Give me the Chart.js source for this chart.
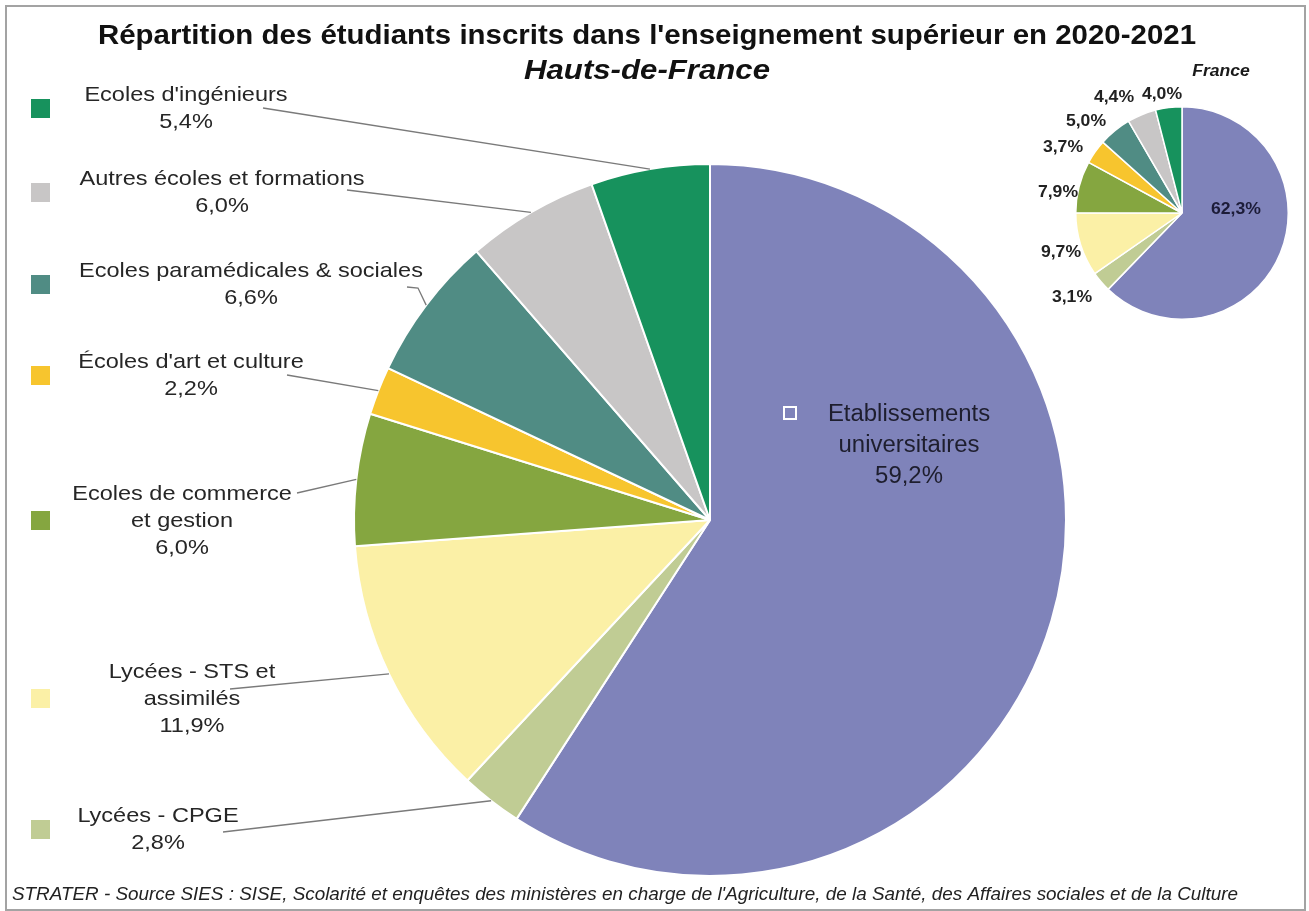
<!DOCTYPE html>
<html>
<head>
<meta charset="utf-8">
<script src="https://cdn.jsdelivr.net/npm/chart.js@4"></script>
<style>
  body { margin: 0; background: #fff; }
  #wrap { position: relative; width: 1309px; height: 911px; }
  canvas { position: absolute; left: 0; top: 0; }
</style>
</head>
<body>
<div id="wrap">
  <canvas id="mainChart" width="1309" height="911"></canvas>
  <canvas id="franceChart" width="1309" height="911"></canvas>
</div>
<script>
// Données (ordre des parts, dans le sens horaire depuis midi)
const categories = [
  'Etablissements\nuniversitaires',
  'Lycées - CPGE',
  'Lycées - STS et\nassimilés',
  'Ecoles de commerce\net gestion',
  "Écoles d'art et culture",
  'Ecoles paramédicales & sociales',
  'Autres écoles et formations',
  "Ecoles d'ingénieurs"
];
const hautsDeFrance = [59.2, 2.8, 11.9, 6.0, 2.2, 6.6, 6.0, 5.4];
const france = [62.3, 3.1, 9.7, 7.9, 3.7, 5.0, 4.4, 4.0];

const colors = ['#7f83ba', '#c0cc94', '#fbf0a6', '#85a640', '#f7c52e', '#508c84', '#c8c6c6', '#17925d'];

// Position des étiquettes (centre du bloc de texte) et départ des traits de rappel
const labelPos = [[909, 446], [158, 830], [192, 699], [182, 521], [191, 376], [251, 285], [222, 193], [186, 109]];
const leaderFrom = [null, [[223, 832]], [[230, 689]], [[297, 493]], [[287, 375]], [[407, 287], [418, 288]], [[347, 190]], [[263, 108]]];
const smallLabelPos = [[1236, 210], [1072, 298], [1061, 253], [1058, 193], [1063, 148], [1086, 122], [1114, 98], [1162, 95]];

const fmt = v => v.toFixed(1).replace('.', ',') + '%';

function txt(ctx, s, x, y, font, color, sx, align) {
  ctx.save();
  ctx.font = font;
  ctx.fillStyle = color;
  ctx.textBaseline = 'middle';
  ctx.textAlign = align || 'center';
  ctx.translate(x, y);
  ctx.scale(sx || 1, 1);
  ctx.fillText(s, 0, 0);
  ctx.restore();
}

function fit(ctx, s, x, y, font, color, w, align) {
  ctx.save();
  ctx.font = font;
  const m = ctx.measureText(s).width;
  ctx.restore();
  txt(ctx, s, x, y, font, color, w / m, align);
}

const mainDecor = {
  id: 'mainDecor',
  beforeDraw(chart) {
    const ctx = chart.ctx;
    ctx.save();
    ctx.fillStyle = '#fff';
    ctx.fillRect(0, 0, chart.width, chart.height);
    ctx.strokeStyle = '#a3a3a3';
    ctx.lineWidth = 2;
    ctx.strokeRect(6, 6, 1299, 904);
    ctx.restore();
  },
  afterDraw(chart) {
    const ctx = chart.ctx;
    const meta = chart.getDatasetMeta(0);

    // titres et source
    fit(ctx, "Répartition des étudiants inscrits dans l'enseignement supérieur en 2020-2021", 647, 37,
      'bold 27px "Liberation Sans Narrow", "Liberation Sans", Arial', '#111', 1098);
    fit(ctx, 'Hauts-de-France', 647, 72, 'italic bold 27px "Liberation Sans Narrow", "Liberation Sans", Arial', '#111', 246);
    fit(ctx, "STRATER - Source SIES : SISE, Scolarité et enquêtes des ministères en charge de l'Agriculture, de la Santé, des Affaires sociales et de la Culture",
      12, 895, 'italic 18px "Liberation Sans Narrow", "Liberation Sans", Arial', '#222', 1226, 'left');

    // traits de rappel
    ctx.save();
    ctx.strokeStyle = '#7a7a7a';
    ctx.lineWidth = 1.3;
    meta.data.forEach((arc, i) => {
      if (!leaderFrom[i]) return;
      const mid = (arc.startAngle + arc.endAngle) / 2;
      const ex = arc.x + Math.cos(mid) * arc.outerRadius;
      const ey = arc.y + Math.sin(mid) * arc.outerRadius;
      ctx.beginPath();
      leaderFrom[i].forEach((p, k) => k ? ctx.lineTo(p[0], p[1]) : ctx.moveTo(p[0], p[1]));
      ctx.lineTo(ex, ey);
      ctx.stroke();
    });
    ctx.restore();

    // étiquettes
    categories.forEach((name, i) => {
      const lines = name.split('\n').concat([fmt(hautsDeFrance[i])]);
      const [cx, cy] = labelPos[i];
      if (i === 0) {
        const lh = 31;
        const y0 = cy - (lines.length - 1) * lh / 2;
        lines.forEach((l, k) => txt(ctx, l, cx, y0 + k * lh, '23px "Liberation Sans", Arial', '#1e1e2e', 1.04));
        ctx.save();
        ctx.fillStyle = colors[0];
        ctx.strokeStyle = '#fff';
        ctx.lineWidth = 2;
        ctx.fillRect(784, 407, 12, 12);
        ctx.strokeRect(784, 407, 12, 12);
        ctx.restore();
        return;
      }
      const lh = 27;
      const y0 = cy - (lines.length - 1) * lh / 2;
      lines.forEach((l, k) => txt(ctx, l, cx, y0 + k * lh, '21px "Liberation Sans", Arial', '#262626', 1.12));
      ctx.save();
      ctx.fillStyle = colors[i];
      ctx.fillRect(31, cy - 10, 19, 19);
      ctx.restore();
    });
  }
};

const smallDecor = {
  id: 'smallDecor',
  afterDraw(chart) {
    const ctx = chart.ctx;
    txt(ctx, 'France', 1221, 72, 'italic bold 16px "Liberation Sans", Arial', '#1a1a1a', 1.1);
    france.forEach((v, i) => {
      const [x, y] = smallLabelPos[i];
      txt(ctx, fmt(v), x, y, 'bold 16px "Liberation Sans", Arial', i === 0 ? '#1c1c38' : '#222', 1.1);
    });
  }
};

const baseOptions = {
  responsive: false,
  animation: false,
  plugins: { legend: { display: false }, tooltip: { enabled: false } },
  events: []
};

new Chart(document.getElementById('mainChart').getContext('2d'), {
  type: 'pie',
  data: {
    labels: categories,
    datasets: [{ data: hautsDeFrance, backgroundColor: colors, borderColor: '#fff', borderWidth: 2 }]
  },
  options: Object.assign({}, baseOptions, {
    layout: { padding: { left: 353, right: 242, top: 163, bottom: 34 } }
  }),
  plugins: [mainDecor]
});

new Chart(document.getElementById('franceChart').getContext('2d'), {
  type: 'pie',
  data: {
    labels: categories,
    datasets: [{ data: france, backgroundColor: colors, borderColor: '#fff', borderWidth: 1.5 }]
  },
  options: Object.assign({}, baseOptions, {
    layout: { padding: { left: 1075, right: 20, top: 106, bottom: 591 } }
  }),
  plugins: [smallDecor]
});
</script>
</body>
</html>
